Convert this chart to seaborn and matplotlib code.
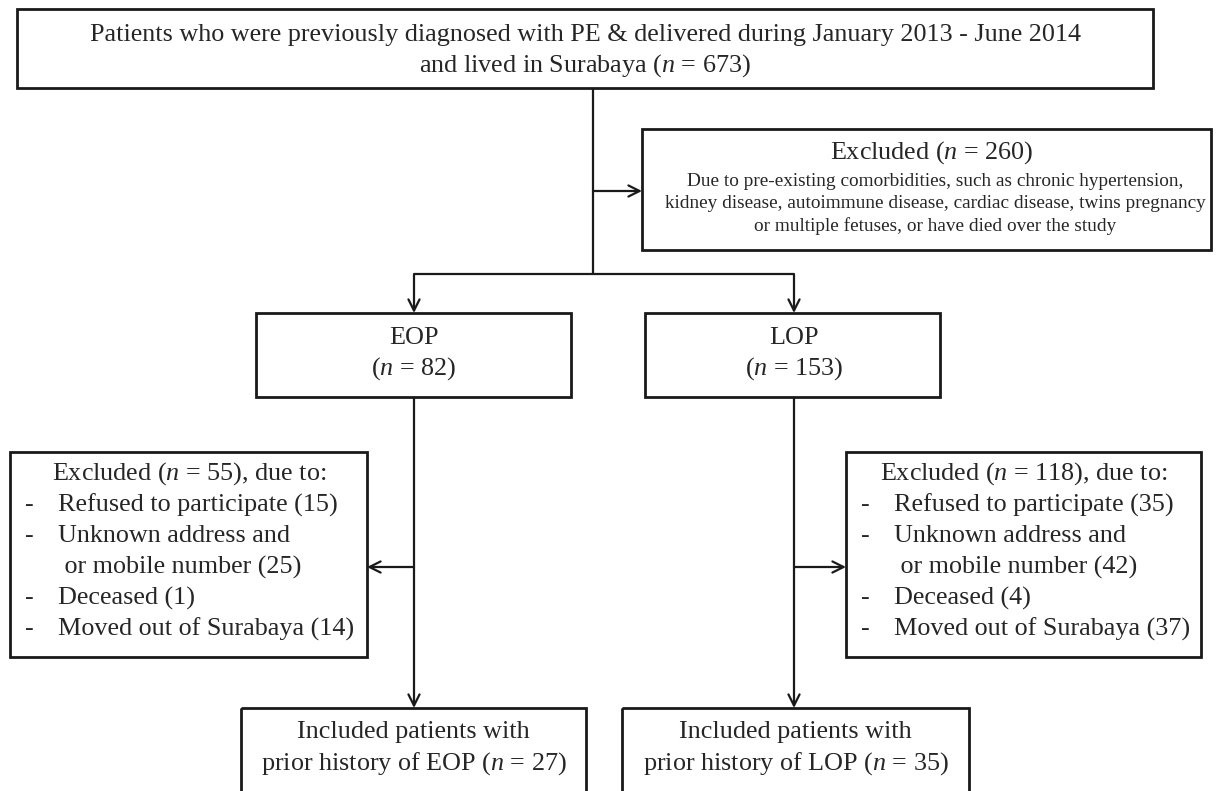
import matplotlib.pyplot as plt
import seaborn as sns
from matplotlib.patches import Rectangle

# flow counts
n_total = 673
n_excluded = 260
groups = ['EOP', 'LOP']
n_groups = [82, 153]
n_group_excl = [55, 118]
reasons = ['Refused to participate', 'Unknown address and', 'or mobile number', 'Deceased', 'Moved out of Surabaya']
reason_counts = [[15, 25, 1, 14], [35, 42, 4, 37]]
n_included = [27, 35]

sns.set_theme(style='white')
plt.rcParams['font.family'] = ['Liberation Serif', 'DejaVu Serif']
plt.rcParams['mathtext.fontset'] = 'custom'
plt.rcParams['mathtext.rm'] = 'Liberation Serif'
plt.rcParams['mathtext.it'] = 'Liberation Serif:italic'

fig = plt.figure(figsize=(12.16, 7.91), dpi=100)
ax = fig.add_axes([0, 0, 1, 1])
ax.set_xlim(0, 1216)
ax.set_ylim(791, 0)
ax.axis('off')

ec = '#1a1a1a'
N = r'$n$'
fs = 18.8


def box(x0, y0, x1, y1):
    ax.add_patch(Rectangle((x0, y0), x1 - x0, y1 - y0, fill=False, ec=ec, lw=2.0))


def line(xs, ys):
    ax.plot(xs, ys, color=ec, lw=1.6, solid_capstyle='butt')


def arrow(x0, y0, x1, y1):
    ax.annotate('', xy=(x1, y1), xytext=(x0, y0),
                arrowprops=dict(arrowstyle='->', color=ec, lw=1.6,
                                shrinkA=0, shrinkB=0, mutation_scale=20))


# top box
box(17, 9, 1153, 88)
ax.text(585, 35, 'Patients who were previously diagnosed with PE & delivered during January 2013 - June 2014',
        ha='center', va='center', fontsize=fs)
ax.text(585, 66, f'and lived in Surabaya ({N} = {n_total})', ha='center', va='center', fontsize=fs)

# trunk and exclusion
line([593, 593], [88, 274])
arrow(593, 191, 642, 191)
box(642, 129, 1211, 250)
ax.text(932, 153, f'Excluded ({N} = {n_excluded})', ha='center', va='center', fontsize=fs)
sub = ['Due to pre-existing comorbidities, such as chronic hypertension,',
       'kidney disease, autoimmune disease, cardiac disease, twins pregnancy',
       'or multiple fetuses, or have died over the study']
for y, s in zip([182, 204, 226], sub):
    ax.text(935, y, s, ha='center', va='center', fontsize=13.9)

# split
cx = [414, 794]
line([cx[0], cx[1]], [274, 274])
for x in cx:
    arrow(x, 274, x, 313)

group_boxes = [(256, 571), (645, 940)]
for (x0, x1), g, n, x in zip(group_boxes, groups, n_groups, cx):
    box(x0, 313, x1, 397)
    ax.text(x, 338, g, ha='center', va='center', fontsize=fs)
    ax.text(x, 369, f'({N} = {n})', ha='center', va='center', fontsize=fs)
    line([x, x], [397, 670])
    arrow(x, 670, x, 708)

# group exclusion boxes
excl_boxes = [(10, 367), (846, 1201)]
arrow_dirs = [(cx[0], 367), (cx[1], 846)]
title_off = [42, 34]
for (x0, x1), (ax0, ax1), ne, counts, to in zip(excl_boxes, arrow_dirs, n_group_excl, reason_counts, title_off):
    box(x0, 452, x1, 657)
    arrow(ax0, 567, ax1, 567)
    ax.text(x0 + to, 474, f'Excluded ({N} = {ne}), due to:', ha='left', va='center', fontsize=fs)
    rows = [f'{reasons[0]} ({counts[0]})', reasons[1], f' {reasons[2]} ({counts[1]})',
            f'{reasons[3]} ({counts[2]})', f'{reasons[4]} ({counts[3]})']
    ys = [505, 536, 567, 598, 629]
    for y, r in zip(ys, rows):
        if not r.startswith(' '):
            ax.text(x0 + 15, y, '-', ha='left', va='center', fontsize=fs)
        ax.text(x0 + 48, y, r, ha='left', va='center', fontsize=fs)

# included boxes
inc_boxes = [(241, 586), (622, 969)]
for (x0, x1), g, n, x in zip(inc_boxes, groups, n_included, cx):
    box(x0, 708, x1, 820)
    ax.text((x0 + x1) / 2, 732, 'Included patients with', ha='center', va='center', fontsize=fs)
    ax.text((x0 + x1) / 2, 764, f'prior history of {g} ({N} = {n})', ha='center', va='center', fontsize=fs)

fig.savefig('out.png', dpi=100, facecolor='white')
